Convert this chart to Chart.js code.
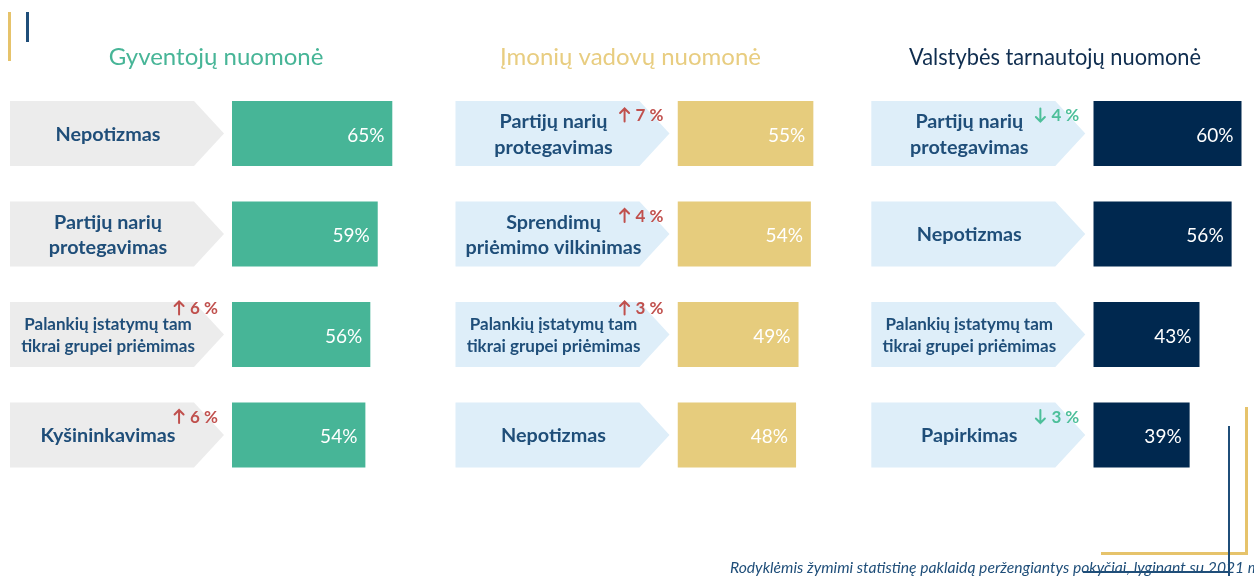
<!DOCTYPE html>
<html>
<head>
<meta charset="utf-8">
<script src="https://cdn.jsdelivr.net/npm/chart.js@4.4.1/dist/chart.umd.min.js"></script>
<style>
  html, body { margin: 0; padding: 0; background: #fff; }
  body { width: 1254px; height: 576px; overflow: hidden; position: relative; font-family: Lato, sans-serif; }
  canvas { position: absolute; top: 0; }
  .ln { position: absolute; }
  #note { position: absolute; left: 730px; top: 558px; font-style: italic; font-size: 15.7px; color: #1f4e79; white-space: nowrap; }
</style>
</head>
<body>
<canvas id="c1" width="420" height="576" style="left:0px"></canvas>
<canvas id="c2" width="440" height="576" style="left:420px"></canvas>
<canvas id="c3" width="394" height="576" style="left:860px"></canvas>
<div id="note">Rodyklėmis žymimi statistinę paklaidą peržengiantys pokyčiai, lyginant su 2021 m.</div>
<div class="ln" style="left:8px;top:12px;width:3px;height:49px;background:#e6c36b"></div>
<div class="ln" style="left:26px;top:12px;width:3px;height:30px;background:#1f4e79"></div>
<div class="ln" style="left:1245px;top:407px;width:3px;height:148px;background:#e6c36b"></div>
<div class="ln" style="left:1101px;top:552px;width:147px;height:3px;background:#e6c36b"></div>
<div class="ln" style="left:1228px;top:426px;width:2px;height:150px;background:#1f4e79"></div>
<div class="ln" style="left:1083px;top:571px;width:147px;height:2px;background:#1f4e79"></div>
<script>
// Gyventojų nuomonė
const residentsLabels = [["Nepotizmas"], ["Partijų narių", "protegavimas"], ["Palankių įstatymų tam", "tikrai grupei priėmimas"], ["Kyšininkavimas"]];
const residentsValues = [65, 59, 56, 54];
const residentsChange = [null, null, 6, 6];

// Įmonių vadovų nuomonė
const managersLabels = [["Partijų narių", "protegavimas"], ["Sprendimų", "priėmimo vilkinimas"], ["Palankių įstatymų tam", "tikrai grupei priėmimas"], ["Nepotizmas"]];
const managersValues = [55, 54, 49, 48];
const managersChange = [7, 4, 3, null];

// Valstybės tarnautojų nuomonė
const servantsLabels = [["Partijų narių", "protegavimas"], ["Nepotizmas"], ["Palankių įstatymų tam", "tikrai grupei priėmimas"], ["Papirkimas"]];
const servantsValues = [60, 56, 43, 39];
const servantsChange = [-4, null, null, -3];

const labelColor = "#1f4e79";
const FONT = "Lato, 'Open Sans', sans-serif";

const decor = {
  id: "decor",
  afterDatasetsDraw(chart, args, o) {
    const ctx = chart.ctx;
    const left = chart.chartArea.left;
    ctx.save();
    // title
    ctx.fillStyle = o.titleColor;
    ctx.font = "24px " + FONT;
    ctx.textAlign = "center";
    ctx.textBaseline = "middle";
    ctx.fillText(o.title, o.titleX, 57, o.titleW);

    const bars = chart.getDatasetMeta(0).data;
    bars.forEach((bar, i) => {
      const p = bar.getProps(["x", "y", "height"], true);
      const top = p.y - p.height / 2, bot = p.y + p.height / 2;
      // chevron
      const x0 = left - 222, x1 = left - 38, x2 = left - 8;
      ctx.fillStyle = o.chevron;
      ctx.beginPath();
      ctx.moveTo(x0, top);
      ctx.lineTo(x1, top);
      ctx.lineTo(x2, p.y);
      ctx.lineTo(x1, bot);
      ctx.lineTo(x0, bot);
      ctx.closePath();
      ctx.fill();
      // label text
      const lines = chart.data.labels[i];
      const long = lines.some(s => s.length > 20);
      const fs = long ? 17 : 19.8;
      const lh = long ? 21.5 : 25.5;
      ctx.fillStyle = labelColor;
      ctx.font = "bold " + fs + "px " + FONT;
      ctx.textAlign = "center";
      const start = p.y + 1 - (lines.length - 1) * lh / 2;
      lines.forEach((s, k) => ctx.fillText(s, left - 124, start + k * lh));
      // value
      ctx.fillStyle = "#fff";
      ctx.font = "19px " + FONT;
      ctx.textAlign = "right";
      ctx.fillText(chart.data.datasets[0].data[i] + "%", p.x - 8, p.y + 2);
      // change indicator
      const c = o.change[i];
      if (c != null) {
        const txt = Math.abs(c) + " %";
        const xr = left - 14, yc = top + (long ? 6 : 14);
        const col = c > 0 ? "#c0504d" : "#4dbf9a";
        ctx.fillStyle = col;
        ctx.font = "bold 17px " + FONT;
        ctx.textAlign = "right";
        ctx.fillText(txt, xr, yc + 1);
        const tw = ctx.measureText(txt).width;
        const ax = xr - tw - 11;
        const d = c > 0 ? -1 : 1;
        ctx.strokeStyle = col;
        ctx.lineWidth = 2;
        ctx.lineCap = "round";
        ctx.beginPath();
        ctx.moveTo(ax, yc - 6.5 * d);
        ctx.lineTo(ax, yc + 6.5 * d);
        ctx.moveTo(ax - 4.5, yc + 2 * d);
        ctx.lineTo(ax, yc + 6.5 * d);
        ctx.lineTo(ax + 4.5, yc + 2 * d);
        ctx.stroke();
      }
    });
    ctx.restore();
  }
};

function panel(id, chartLeft, labels, values, change, barColor, title, titleX, titleW, titleColor, chevron) {
  const cv = document.getElementById(id);
  const w = cv.width;
  const maxVal = 65;
  const plotW = maxVal * 2.47;
  new Chart(cv, {
    type: "bar",
    data: {
      labels: labels,
      datasets: [{ data: values, backgroundColor: barColor, borderWidth: 0, barPercentage: 0.647, categoryPercentage: 1 }]
    },
    options: {
      responsive: false,
      animation: false,
      indexAxis: "y",
      layout: { padding: { left: chartLeft, right: w - chartLeft - plotW, top: 83.25, bottom: 90.75 } },
      scales: {
        x: { display: false, min: 0, max: maxVal },
        y: { display: false }
      },
      plugins: {
        legend: { display: false },
        tooltip: { enabled: false },
        decor: { change: change, title: title, titleX: titleX, titleW: titleW, titleColor: titleColor, chevron: chevron }
      }
    },
    plugins: [decor]
  });
}

panel("c1", 232, residentsLabels, residentsValues, residentsChange, "#47b597", "Gyventojų nuomonė", 216, 216, "#47b597", "#ececec");
panel("c2", 257.5, managersLabels, managersValues, managersChange, "#e6cc7d", "Įmonių vadovų nuomonė", 210.5, 265, "#e8cd80", "#deeef9");
panel("c3", 233.3, servantsLabels, servantsValues, servantsChange, "#00284f", "Valstybės tarnautojų nuomonė", 195, 292, "#0f2d4f", "#deeef9");
</script>
</body>
</html>
